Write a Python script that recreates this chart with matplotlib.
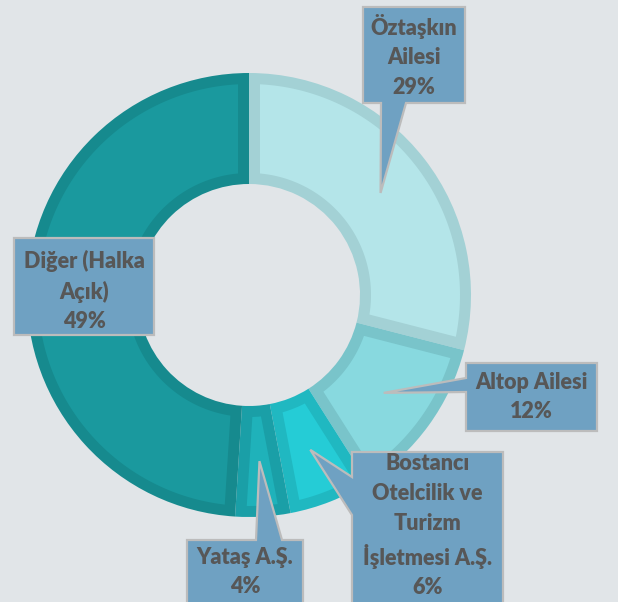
import numpy as np
import matplotlib
matplotlib.use("Agg")
import matplotlib.pyplot as plt
from matplotlib.patches import Polygon

labels = ['Öztaşkın\nAilesi', 'Altop Ailesi', 'Bostancı\nOtelcilik ve\nTurizm\nİşletmesi A.Ş.',
          'Yataş A.Ş.', 'Diğer (Halka\nAçık)']
shares = [29, 12, 6, 4, 49]
fills = ['#b4e5e9', '#88d9df', '#25ccd6', '#1fb2ba', '#1a999e']
borders = ['#a3d1d5', '#79c4ca', '#20b8c1', '#1a9fa7', '#168a8e']

W, H = 618, 602
CX, CY, R = 249, 295, 222   # donut centre / radius in pixels
HOLE = 0.5
BORDER = 11 / R


def px(x, y):
    # pixel position -> data position (radius 1 == R px)
    return ((x - CX) / R, (CY - y) / R)


fig = plt.figure(figsize=(W / 100, H / 100), dpi=100)
fig.patch.set_facecolor('#e1e5e8')
ax = fig.add_axes([0, 0, 1, 1])
ax.set_facecolor('#e1e5e8')

# outer wedges in the border colour
wedges, _ = ax.pie(shares, radius=1, startangle=90, counterclock=False,
                   colors=borders, wedgeprops=dict(width=1 - HOLE, linewidth=0))

# lighter inset of each wedge, BORDER in from every side
for w, c in zip(wedges, fills):
    t1, t2 = np.deg2rad(w.theta1), np.deg2rad(w.theta2)
    ro, ri = 1 - BORDER, HOLE + BORDER
    a1o, a2o = t1 + np.arcsin(BORDER / ro), t2 - np.arcsin(BORDER / ro)
    a1i, a2i = t1 + np.arcsin(BORDER / ri), t2 - np.arcsin(BORDER / ri)
    ao = np.linspace(a1o, a2o, 120)
    ai = np.linspace(a2i, a1i, 120)
    xs = np.concatenate([ro * np.cos(ao), ri * np.cos(ai)])
    ys = np.concatenate([ro * np.sin(ao), ri * np.sin(ai)])
    ax.add_patch(Polygon(np.column_stack([xs, ys]), closed=True,
                         facecolor=c, edgecolor='none', zorder=2))

ax.set_aspect('auto')
ax.set_xlim(-CX / R, (W - CX) / R)
ax.set_ylim((CY - H) / R, CY / R)
ax.axis('off')

# tip of each pointer: middle of the wedge, 3/4 out
tips = []
for w in wedges:
    a = np.deg2rad((w.theta1 + w.theta2) / 2)
    tips.append((0.75 * np.cos(a), 0.75 * np.sin(a)))

# box: left, top, right, bottom (px); pointer base on one edge
boxes = [
    ((363, 7, 465, 103), ('bottom', 381, 406)),
    ((466, 363, 597, 431), ('left', 378, 392)),
    ((352, 452, 503, 640), ('left', 477, 515)),
    ((187, 540, 303, 640), ('top', 256, 282)),
    ((14, 238, 154, 335), None),
]
text_y = [56, 397, 526, 572, 291]

for i, (box, ptr) in enumerate(boxes):
    l, t, r, b = box
    if ptr is None:
        pts = [(l, t), (r, t), (r, b), (l, b)]
    else:
        side, p0, p1 = ptr
        tip = (tips[i][0] * R + CX, CY - tips[i][1] * R)
        if side == 'bottom':
            pts = [(l, t), (r, t), (r, b), (p1, b), tip, (p0, b), (l, b)]
        elif side == 'left':
            pts = [(l, t), (r, t), (r, b), (l, b), (l, p1), tip, (l, p0)]
        else:
            pts = [(l, t), (p0, t), tip, (p1, t), (r, t), (r, b), (l, b)]
    poly = Polygon([px(*p) for p in pts], closed=True, facecolor='#6fa1c2',
                   edgecolor='#bcbcbc', linewidth=1.6, zorder=5)
    ax.add_patch(poly)
    txt = labels[i] + '\n' + f'{shares[i]}%'
    ax.text(*px((l + r) / 2, text_y[i]), txt, ha='center', va='center',
            fontsize=15.5, fontweight='heavy', family='Lato', color='#575757',
            linespacing=1.5, zorder=6)

fig.savefig('out.png', dpi=100, facecolor=fig.get_facecolor())
